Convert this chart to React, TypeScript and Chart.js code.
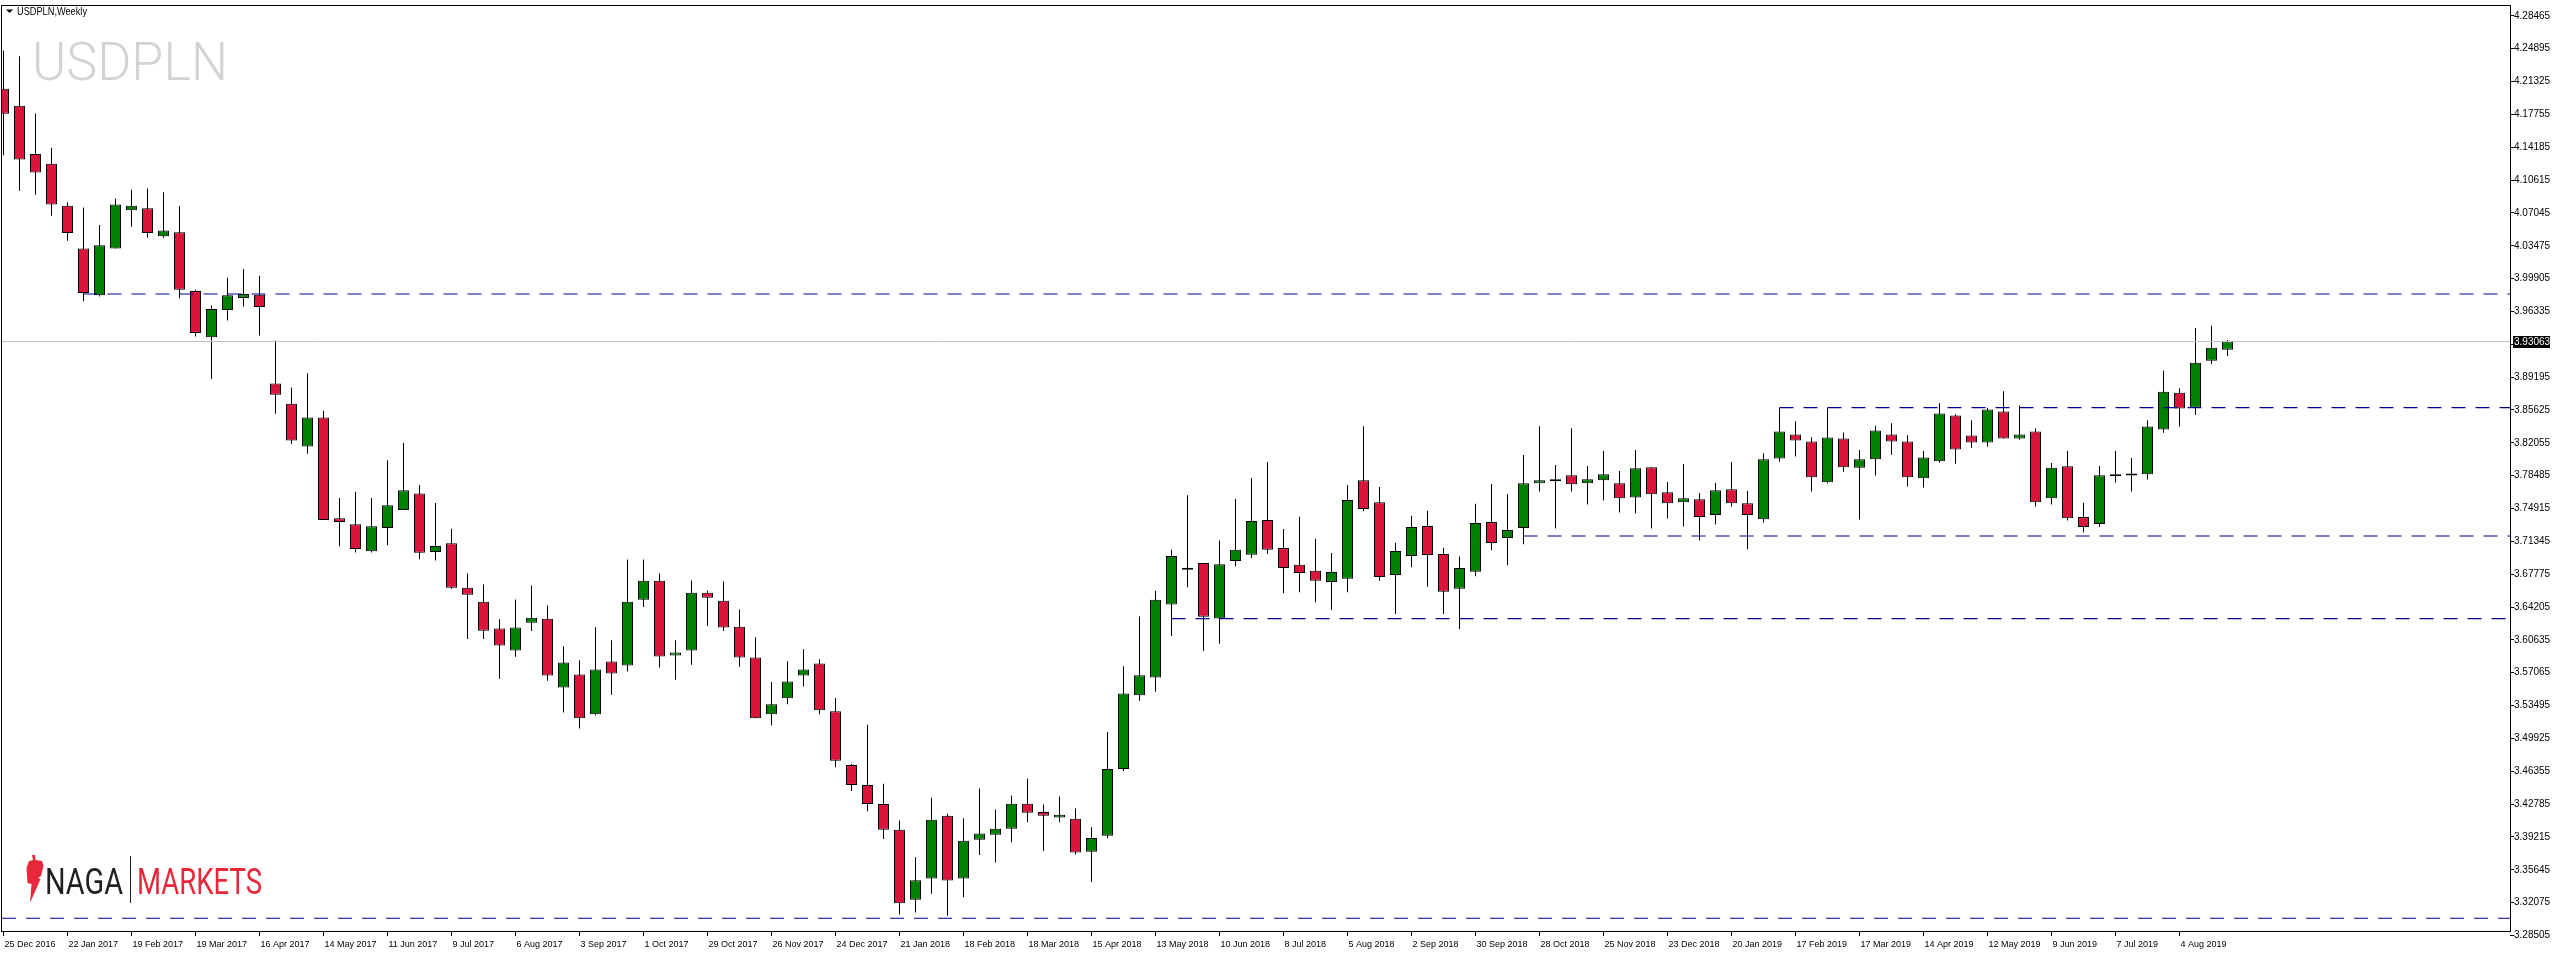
import React, { useEffect, useRef } from "react";
import { Chart, registerables } from "chart.js";

Chart.register(...registerables);

const W = 2556;
const H = 960;

// Weekly USDPLN candles, 25 Dec 2016 .. 25 Aug 2019
const opens = [
  4.2055, 4.1868, 4.1346, 4.1239, 4.0783, 4.0319, 3.9810, 4.0319, 4.0733, 4.0754,
  4.0452, 4.0493, 3.9855, 3.9354, 3.9648, 3.9781, 3.9814, 3.8849, 3.8629, 3.8165,
  3.8480, 3.7387, 3.7321, 3.7026, 3.7279, 3.7474, 3.7656, 3.7018, 3.7113, 3.6630,
  3.6478, 3.6186, 3.5948, 3.6251, 3.6294, 3.5547, 3.5688, 3.5255, 3.5829, 3.5785,
  3.6500, 3.6705, 3.5894, 3.5948, 3.6575, 3.6489, 3.6207, 3.5872, 3.5255, 3.5428,
  3.5677, 3.5807, 3.5288, 3.4703, 3.4487, 3.4280, 3.4000, 3.3240, 3.3471, 3.4151,
  3.3471, 3.3892, 3.3946, 3.4012, 3.4282, 3.4193, 3.4132, 3.4120, 3.3760, 3.3934,
  3.4661, 3.5461, 3.5654, 3.6447, 3.6826, 3.6899, 3.6296, 3.6922, 3.6988, 3.7367,
  3.7061, 3.6880, 3.6814, 3.6694, 3.6729, 3.7800, 3.7560, 3.6770, 3.6976, 3.7301,
  3.6998, 3.6619, 3.6803, 3.7344, 3.7171, 3.7279, 3.7766, 3.7809, 3.7852, 3.7766,
  3.7798, 3.7766, 3.7611, 3.7939, 3.7668, 3.7560, 3.7593, 3.7420, 3.7701, 3.7549,
  3.7376, 3.8036, 3.8296, 3.8220, 3.7777, 3.8253, 3.7935, 3.8026, 3.8296, 3.8220,
  3.7820, 3.8004, 3.8502, 3.8285, 3.8210, 3.8545, 3.8253, 3.8329, 3.7604, 3.7950,
  3.7398, 3.7322, 3.7842, 3.7850, 3.7863, 3.8350, 3.8751, 3.8588, 3.9097, 3.9216,
];
const highs = [
  4.2469, 4.2407, 4.1785, 4.1413, 4.0820, 4.0762, 4.0572, 4.0862, 4.0957, 4.0969,
  4.0928, 4.0779, 3.9868, 3.9702, 4.0000, 4.0096, 4.0021, 3.9317, 3.8807, 3.8961,
  3.8555, 3.7606, 3.7673, 3.7606, 3.8016, 3.8203, 3.7747, 3.7552, 3.7271, 3.6785,
  3.6666, 3.6287, 3.6503, 3.6655, 3.6438, 3.5995, 3.5843, 3.6200, 3.6060, 3.6936,
  3.6936, 3.6785, 3.6060, 3.6709, 3.6601, 3.6698, 3.6395, 3.6092, 3.5605, 3.5832,
  3.5962, 3.5854, 3.5432, 3.4714, 3.5140, 3.4500, 3.4100, 3.3700, 3.4348, 3.4174,
  3.4124, 3.4448, 3.4220, 3.4371, 3.4557, 3.4275, 3.4360, 3.4232, 3.4027, 3.5063,
  3.5778, 3.6319, 3.6598, 3.7042, 3.7637, 3.6899, 3.7143, 3.7595, 3.7823, 3.7997,
  3.7270, 3.7402, 3.7162, 3.7007, 3.7746, 3.8387, 3.7726, 3.7120, 3.7412, 3.7466,
  3.7066, 3.6969, 3.7542, 3.7759, 3.7650, 3.8073, 3.8386, 3.7964, 3.8365, 3.7954,
  3.8116, 3.7899, 3.8127, 3.7939, 3.7780, 3.7975, 3.7661, 3.7770, 3.7997, 3.7683,
  3.8091, 3.8588, 3.8440, 3.8267, 3.8588, 3.8318, 3.8127, 3.8390, 3.8419, 3.8289,
  3.8116, 3.8635, 3.8516, 3.8451, 3.8588, 3.8765, 3.8610, 3.8361, 3.7986, 3.8116,
  3.7553, 3.7954, 3.8116, 3.8040, 3.8451, 3.8992, 3.8798, 3.9454, 3.9479, 3.9324,
];
const lows = [
  4.1330, 4.0945, 4.0903, 4.0675, 4.0402, 3.9743, 3.9797, 4.0319, 4.0555, 4.0435,
  4.0435, 3.9777, 3.9362, 3.8898, 3.9536, 3.9686, 3.9371, 3.8522, 3.8194, 3.8087,
  3.7366, 3.7080, 3.7014, 3.7014, 3.7093, 3.7474, 3.6939, 3.6927, 3.6616, 3.6074,
  3.6074, 3.5641, 3.5879, 3.6161, 3.5619, 3.5273, 3.5100, 3.5244, 3.5468, 3.5720,
  3.6420, 3.5764, 3.5630, 3.5793, 3.6215, 3.6161, 3.5771, 3.5212, 3.5132, 3.5363,
  3.5558, 3.5255, 3.4678, 3.4420, 3.4200, 3.3900, 3.3080, 3.3100, 3.3304, 3.3065,
  3.3266, 3.3726, 3.3645, 3.3865, 3.4081, 3.3768, 3.4081, 3.3730, 3.3432, 3.3911,
  3.4638, 3.5403, 3.5500, 3.6107, 3.6636, 3.5944, 3.6022, 3.6864, 3.6953, 3.6996,
  3.6571, 3.6582, 3.6474, 3.6389, 3.6582, 3.7463, 3.6706, 3.6345, 3.6853, 3.6640,
  3.6345, 3.6182, 3.6756, 3.7037, 3.6875, 3.7102, 3.7676, 3.7275, 3.7676, 3.7535,
  3.7578, 3.7448, 3.7438, 3.7275, 3.7384, 3.7297, 3.7145, 3.7319, 3.7513, 3.7048,
  3.7340, 3.8000, 3.8058, 3.7676, 3.7766, 3.7892, 3.7373, 3.7849, 3.8076, 3.7730,
  3.7719, 3.7990, 3.7979, 3.8152, 3.8163, 3.8253, 3.8239, 3.7513, 3.7535, 3.7362,
  3.7232, 3.7290, 3.7773, 3.7676, 3.7806, 3.8314, 3.8383, 3.8509, 3.9061, 3.9148,
];
const closes = [
  4.1781, 4.1284, 4.1143, 4.0795, 4.0485, 3.9835, 4.0352, 4.0795, 4.0783, 4.0485,
  4.0514, 3.9868, 3.9400, 3.9661, 3.9810, 3.9822, 3.9681, 3.8729, 3.8232, 3.8480,
  3.7366, 3.7345, 3.7051, 3.7300, 3.7528, 3.7689, 3.7010, 3.7084, 3.6629, 3.6554,
  3.6164, 3.6002, 3.6197, 3.6305, 3.5677, 3.5818, 3.5212, 3.5742, 3.5699, 3.6478,
  3.6705, 3.5883, 3.5926, 3.6575, 3.6521, 3.6197, 3.5872, 3.5212, 3.5363, 3.5612,
  3.5742, 3.5298, 3.4750, 3.4487, 3.4280, 3.4000, 3.3200, 3.3450, 3.4108, 3.3447,
  3.3880, 3.3958, 3.4012, 3.4282, 3.4186, 3.4151, 3.4162, 3.3753, 3.3911, 3.4661,
  3.5480, 3.5678, 3.6501, 3.6976, 3.6845, 3.6315, 3.6887, 3.7042, 3.7355, 3.7042,
  3.6845, 3.6791, 3.6706, 3.6802, 3.7583, 3.7487, 3.6748, 3.7030, 3.7290, 3.6987,
  3.6586, 3.6846, 3.7333, 3.7117, 3.7257, 3.7766, 3.7798, 3.7788, 3.7755, 3.7809,
  3.7863, 3.7603, 3.7928, 3.7647, 3.7549, 3.7603, 3.7398, 3.7690, 3.7549, 3.7420,
  3.8026, 3.8329, 3.8231, 3.7831, 3.8264, 3.7939, 3.8026, 3.8340, 3.8220, 3.7831,
  3.8047, 3.8524, 3.8134, 3.8210, 3.8567, 3.8253, 3.8296, 3.7560, 3.7935, 3.7387,
  3.7290, 3.7853, 3.7853, 3.7853, 3.8383, 3.8762, 3.8578, 3.9075, 3.9238, 3.93063,
];

// time axis labels, one every 4 weekly bars starting at bar 0
const dateLabels = [
  "25 Dec 2016", "22 Jan 2017", "19 Feb 2017", "19 Mar 2017", "16 Apr 2017",
  "14 May 2017", "11 Jun 2017", "9 Jul 2017", "6 Aug 2017", "3 Sep 2017",
  "1 Oct 2017", "29 Oct 2017", "26 Nov 2017", "24 Dec 2017", "21 Jan 2018",
  "18 Feb 2018", "18 Mar 2018", "15 Apr 2018", "13 May 2018", "10 Jun 2018",
  "8 Jul 2018", "5 Aug 2018", "2 Sep 2018", "30 Sep 2018", "28 Oct 2018",
  "25 Nov 2018", "23 Dec 2018", "20 Jan 2019", "17 Feb 2019", "17 Mar 2019",
  "14 Apr 2019", "12 May 2019", "9 Jun 2019", "7 Jul 2019", "4 Aug 2019",
];
const dateLabelStep = 4;

const priceTicks = [
  4.28465, 4.24895, 4.21325, 4.17755, 4.14185, 4.10615, 4.07045, 4.03475,
  3.99905, 3.96335, 3.92765, 3.89195, 3.85625, 3.82055, 3.78485, 3.74915,
  3.71345, 3.67775, 3.64205, 3.60635, 3.57065, 3.53495, 3.49925, 3.46355,
  3.42785, 3.39215, 3.35645, 3.32075, 3.28505,
];

// horizontal dashed levels and the bar each one starts from
const levelPrices = [3.9823, 3.8589, 3.7193, 3.6295, 3.3038];
const levelStartBars = [5, 111, 95, 73, -1];

const currentPrice = 3.93063;

const X_MIN = -0.09375;
const X_MAX = 156.65625;
const Y_MIN = 3.289937;
const Y_MAX = 4.295349;

const GREEN = "#008000";
const RED = "#DC143C";
const LEVEL = "#000090";
const FONT = "'Liberation Sans', Arial, sans-serif";

const overlayPlugin = {
  id: "mtOverlay",
  afterDraw(chart: any) {
    const { ctx, chartArea: a } = chart;
    const y = chart.scales.y;
    ctx.save();
    ctx.strokeStyle = "#000";
    ctx.lineWidth = 1;
    ctx.strokeRect(a.left - 0.5, a.top - 0.5, a.right - a.left + 1, a.bottom - a.top + 1);
    const py = Math.round(y.getPixelForValue(currentPrice));
    ctx.fillStyle = "#000";
    ctx.fillRect(a.right + 3, py - 6, 37, 12);
    ctx.fillStyle = "#fff";
    ctx.font = "10px " + FONT;
    ctx.textBaseline = "middle";
    ctx.textAlign = "left";
    ctx.fillText(currentPrice.toFixed(5), a.right + 4, py + 0.5);
    ctx.restore();
  },
};

export default function App() {
  const ref = useRef<HTMLCanvasElement>(null);

  useEffect(() => {
    const canvas = ref.current;
    if (!canvas) return;
    const idx = opens.map((_, i) => i);
    const bodyColors = idx.map((i) => (closes[i] >= opens[i] ? GREEN : RED));

    const datasets: any[] = [
      {
        type: "bar",
        label: "wicks",
        data: idx.map((i) => ({ x: i, y: [lows[i], highs[i]] })),
        backgroundColor: "#000",
        borderWidth: 0,
        barThickness: 1,
        grouped: false,
        inflateAmount: 0,
        order: 3,
      },
      {
        type: "bar",
        label: "bodies",
        data: idx.map((i) => ({ x: i, y: [opens[i], closes[i]] })),
        backgroundColor: bodyColors,
        borderColor: "#000",
        borderWidth: 1,
        borderSkipped: false,
        barThickness: 11,
        minBarLength: 2,
        grouped: false,
        inflateAmount: 0,
        order: 2,
      },
      {
        type: "line",
        label: "bid",
        data: [
          { x: X_MIN, y: currentPrice },
          { x: X_MAX, y: currentPrice },
        ],
        borderColor: "#C0C0C0",
        borderWidth: 1,
        pointRadius: 0,
        fill: false,
        order: 1,
      },
      ...levelPrices.map((lv, k) => ({
        type: "line",
        label: "level" + k,
        data: [
          { x: levelStartBars[k] < 0 ? X_MIN : levelStartBars[k], y: lv },
          { x: X_MAX, y: lv },
        ],
        borderColor: LEVEL,
        borderWidth: 1.2,
        borderDash: [14, 10],
        pointRadius: 0,
        fill: false,
        order: 0,
      })),
    ];

    const chart = new Chart(canvas, {
      type: "bar",
      data: { datasets },
      options: {
        responsive: false,
        animation: false,
        devicePixelRatio: 1,
        events: [],
        layout: { padding: { left: 2, top: 2, right: 0, bottom: 0 } },
        plugins: { legend: { display: false }, tooltip: { enabled: false } },
        scales: {
          x: {
            type: "linear",
            min: X_MIN,
            max: X_MAX,
            offset: false,
            afterFit: (s: any) => {
              s.height = 29;
            },
            afterBuildTicks: (s: any) => {
              s.ticks = dateLabels.map((_, k) => ({ value: k * dateLabelStep }));
            },
            border: { display: false },
            grid: {
              offset: false,
              drawOnChartArea: false,
              drawTicks: true,
              tickLength: 5,
              color: "#000",
            },
            ticks: {
              autoSkip: false,
              maxRotation: 0,
              minRotation: 0,
              align: "start",
              labelOffset: 1,
              padding: 3,
              color: "#000",
              font: { family: FONT, size: 9 },
              callback: (_v: any, i: number) => dateLabels[i],
            },
          },
          y: {
            type: "linear",
            position: "right",
            min: Y_MIN,
            max: Y_MAX,
            afterFit: (s: any) => {
              s.width = W - 2510;
            },
            afterBuildTicks: (s: any) => {
              s.ticks = priceTicks.map((v) => ({ value: v }));
            },
            border: { display: false },
            grid: {
              drawOnChartArea: false,
              drawTicks: true,
              tickLength: 4,
              color: "#000",
            },
            ticks: {
              autoSkip: false,
              padding: 0,
              color: "#000",
              font: { family: FONT, size: 10 },
              callback: (v: any) => Number(v).toFixed(5),
            },
          },
        },
      } as any,
      plugins: [overlayPlugin],
    });
    return () => chart.destroy();
  }, []);

  return (
    <div
      style={{
        position: "fixed",
        left: 0,
        top: 0,
        width: W,
        height: H,
        background: "#fff",
        overflow: "hidden",
      }}
    >
      <canvas
        ref={ref}
        width={W}
        height={H}
        style={{ position: "absolute", left: 0, top: 0, width: W, height: H }}
      />
      <svg
        width={W}
        height={H}
        style={{ position: "absolute", left: 0, top: 0, pointerEvents: "none" }}
      >
        <polygon points="6,9.5 13,9.5 9.5,13" fill="#000" />
        <text
          x={17}
          y={14.5}
          fontFamily="'Liberation Sans', Arial, sans-serif"
          fontSize={10}
          textLength={70}
          lengthAdjust="spacingAndGlyphs"
          fill="#000"
        >
          USDPLN,Weekly
        </text>
        <text
          x={32}
          y={80}
          fontFamily="Roboto, 'Liberation Sans', sans-serif"
          fontWeight={300}
          fontSize={53}
          textLength={196}
          lengthAdjust="spacingAndGlyphs"
          fill="#D3D3D3"
        >
          USDPLN
        </text>
        <polygon
          points="32,855 35,855 35.5,860 42,861 43.5,866 41,876 38,878 40.5,879 30,903 31.5,884 27.5,883 26.5,868 29,861 33,860"
          fill="#E8273A"
        />
        <text
          x={45}
          y={894}
          fontFamily="Roboto, 'Liberation Sans', sans-serif"
          fontSize={36}
          textLength={78}
          lengthAdjust="spacingAndGlyphs"
          fill="#231F20"
        >
          NAGA
        </text>
        <line x1={130.5} y1={856} x2={130.5} y2={903} stroke="#231F20" strokeWidth={1} />
        <text
          x={137}
          y={894}
          fontFamily="Roboto, 'Liberation Sans', sans-serif"
          fontSize={36}
          textLength={125}
          lengthAdjust="spacingAndGlyphs"
          fill="#E8273A"
        >
          MARKETS
        </text>
      </svg>
    </div>
  );
}
